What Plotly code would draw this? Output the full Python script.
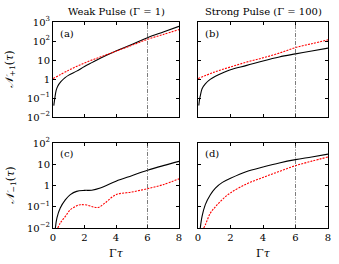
import plotly.graph_objects as go

# Panel (a): weak pulse, N_{+1}
xa_black = [0.05, 0.1, 0.2, 0.3, 0.5, 0.75, 1.0, 1.5, 2.0, 2.5, 3.0, 4.0, 5.0, 6.0, 7.0, 8.0]
ya_black = [0.04, 0.08, 0.25, 0.42, 0.72, 1.15, 1.6, 2.6, 4.5, 7.5, 12.5, 30, 65, 150, 300, 590]
xa_red = [0, 1, 2, 3, 4, 5, 6, 7, 8]
ya_red = [1.05, 2.9, 7.0, 14.4, 29, 59, 123, 220, 400]

# Panel (b): strong pulse, N_{+1}
xb_black = [0.05, 0.1, 0.15, 0.25, 0.45, 0.75, 1.07, 1.5, 2, 3, 4, 5, 6, 7, 8]
yb_black = [0.04, 0.09, 0.14, 0.31, 0.56, 0.95, 1.4, 2.1, 3.1, 5.2, 8.9, 14.4, 21, 30, 42]
xb_red = [0, 1, 2, 3, 4, 5, 6, 7, 8]
yb_red = [1.05, 2.3, 4.3, 7.8, 13, 23, 45, 72, 115]

# Panel (c): weak pulse, N_{-1}
xc_black = [0.15, 0.25, 0.46, 0.78, 1.1, 1.5, 2.0, 2.46, 3.0, 4.0, 5.0, 6.0, 7.0, 8.0]
yc_black = [0.01, 0.03, 0.087, 0.21, 0.37, 0.53, 0.59, 0.6, 0.76, 1.6, 2.9, 5.2, 8.6, 13.7]
xc_red = [0.3, 0.46, 0.78, 1.1, 1.5, 1.73, 2.15, 2.57, 2.88, 3.3, 4.0, 5.0, 6.0, 7.0, 8.0]
yc_red = [0.01, 0.017, 0.035, 0.072, 0.11, 0.125, 0.12, 0.098, 0.093, 0.15, 0.37, 0.49, 0.71, 1.1, 2.05]

# Panel (d): strong pulse, N_{-1}
xd_black = [0.14, 0.25, 0.45, 0.76, 1.07, 1.5, 2, 3, 4, 5, 6, 7, 8]
yd_black = [0.01, 0.035, 0.126, 0.37, 0.76, 1.4, 2.2, 4.6, 7.4, 11.5, 16.5, 22, 30]
xd_red = [0.35, 0.45, 0.76, 1.07, 1.5, 2, 3, 4, 5, 6, 7, 8]
yd_red = [0.01, 0.014, 0.05, 0.1, 0.22, 0.45, 1.2, 2.4, 4.6, 8.6, 14, 22]

x_ticks = [0, 2, 4, 6, 8]
y_top_ticks = [1e-2, 1e-1, 1, 10, 1e2, 1e3]
y_top_text = ["10<sup>−2</sup>", "10<sup>−1</sup>", "1", "10", "10<sup>2</sup>", "10<sup>3</sup>"]
y_bot_ticks = [1e-2, 1e-1, 1, 10, 1e2]
y_bot_text = ["10<sup>−2</sup>", "10<sup>−1</sup>", "1", "10", "10<sup>2</sup>"]
vline_x = 6
titles = ["Weak Pulse (Γ = 1)", "Strong Pulse (Γ = 100)"]
labels = ["(a)", "(b)", "(c)", "(d)"]

FONT = "DejaVu Serif"
W, H = 339, 264
MR = 11  # right margin so the last tick label stays inside the div
PW = W - MR

def px(v):
    return v / PW

def py(v):
    return 1 - v / H

fig = go.Figure()

panels = [
    ("x", "y", xa_black, ya_black, xa_red, ya_red),
    ("x2", "y2", xb_black, yb_black, xb_red, yb_red),
    ("x3", "y3", xc_black, yc_black, xc_red, yc_red),
    ("x4", "y4", xd_black, yd_black, xd_red, yd_red),
]
for xr, yr, xb, yb, xrd, yrd in panels:
    fig.add_trace(go.Scatter(x=xb, y=yb, xaxis=xr, yaxis=yr, mode="lines",
                             line=dict(color="black", width=1.1, shape="spline"),
                             showlegend=False, hoverinfo="skip"))
    fig.add_trace(go.Scatter(x=xrd, y=yrd, xaxis=xr, yaxis=yr, mode="lines",
                             line=dict(color="red", width=1.1, dash="2px,1.2px", shape="spline"),
                             showlegend=False, hoverinfo="skip"))
    fig.add_shape(type="line", xref=xr, yref=yr + " domain", x0=vline_x, x1=vline_x, y0=0, y1=1,
                  line=dict(color="#444444", width=0.7, dash="4px,1.5px,1px,1.5px"))

xdom_l = [px(53), px(179)]
xdom_r = [px(198), min(1.0, px(328))]
ydom_t = [py(117), py(22)]
ydom_b = [py(228), py(143)]

axis_common = dict(showline=True, linecolor="black", linewidth=1, mirror="ticks",
                   ticks="inside", ticklen=3, tickcolor="black", showgrid=False, zeroline=False,
                   ticklabeloverflow="allow",
                   tickfont=dict(family=FONT, size=10, color="black"))

def xax(dom, anchor, labels_on):
    d = dict(axis_common)
    d.update(domain=dom, anchor=anchor, range=[0, 8], tickvals=x_ticks,
             showticklabels=labels_on)
    return d

def yax(dom, anchor, rng, tv, tt, labels_on):
    d = dict(axis_common)
    d.update(domain=dom, anchor=anchor, type="log", range=rng, tickvals=tv, ticktext=tt,
             showticklabels=labels_on)
    return d

fig.update_layout(
    width=W, height=H, margin=dict(l=0, r=MR, t=0, b=0, autoexpand=False),
    paper_bgcolor="white", plot_bgcolor="white",
    font=dict(family=FONT, size=10, color="black"),
    hovermode=False,
    xaxis=xax(xdom_l, "y", False),
    yaxis=yax(ydom_t, "x", [-2, 3], y_top_ticks, y_top_text, True),
    xaxis2=xax(xdom_r, "y2", False),
    yaxis2=yax(ydom_t, "x2", [-2, 3], y_top_ticks, y_top_text, False),
    xaxis3=xax(xdom_l, "y3", True),
    yaxis3=yax(ydom_b, "x3", [-2, 2], y_bot_ticks, y_bot_text, True),
    xaxis4=xax(xdom_r, "y4", True),
    yaxis4=yax(ydom_b, "x4", [-2, 2], y_bot_ticks, y_bot_text, False),
)

ann = []
ann.append(dict(text=titles[0], x=(xdom_l[0] + xdom_l[1]) / 2, y=py(12), xref="paper", yref="paper",
                xanchor="center", yanchor="middle", showarrow=False, font=dict(family=FONT, size=10)))
ann.append(dict(text=titles[1], x=(xdom_r[0] + xdom_r[1]) / 2, y=py(12), xref="paper", yref="paper",
                xanchor="center", yanchor="middle", showarrow=False, font=dict(family=FONT, size=10)))
for i, (xr, yr) in enumerate([("x", "y"), ("x2", "y2"), ("x3", "y3"), ("x4", "y4")]):
    ann.append(dict(text=labels[i], x=0.04, y=0.96, xref=xr + " domain", yref=yr + " domain",
                    xanchor="left", yanchor="top", showarrow=False, font=dict(family=FONT, size=10)))
ann.append(dict(text="<i>𝒩</i><sub>+1</sub>(<i>τ</i>)", x=px(10), y=(ydom_t[0] + ydom_t[1]) / 2,
                xref="paper", yref="paper", xanchor="center", yanchor="middle",
                textangle=-90, showarrow=False, font=dict(family=FONT, size=11)))
ann.append(dict(text="<i>𝒩</i><sub>−1</sub>(<i>τ</i>)", x=px(10), y=(ydom_b[0] + ydom_b[1]) / 2,
                xref="paper", yref="paper", xanchor="center", yanchor="middle",
                textangle=-90, showarrow=False, font=dict(family=FONT, size=11)))
for dom in (xdom_l, xdom_r):
    ann.append(dict(text="Γ<i>τ</i>", x=(dom[0] + dom[1]) / 2, y=py(253), xref="paper", yref="paper",
                    xanchor="center", yanchor="middle", showarrow=False, font=dict(family=FONT, size=11)))
fig.update_layout(annotations=ann)

fig.write_html("out.html", config={"displayModeBar": False},
               post_script="document.body.style.margin='0';")
